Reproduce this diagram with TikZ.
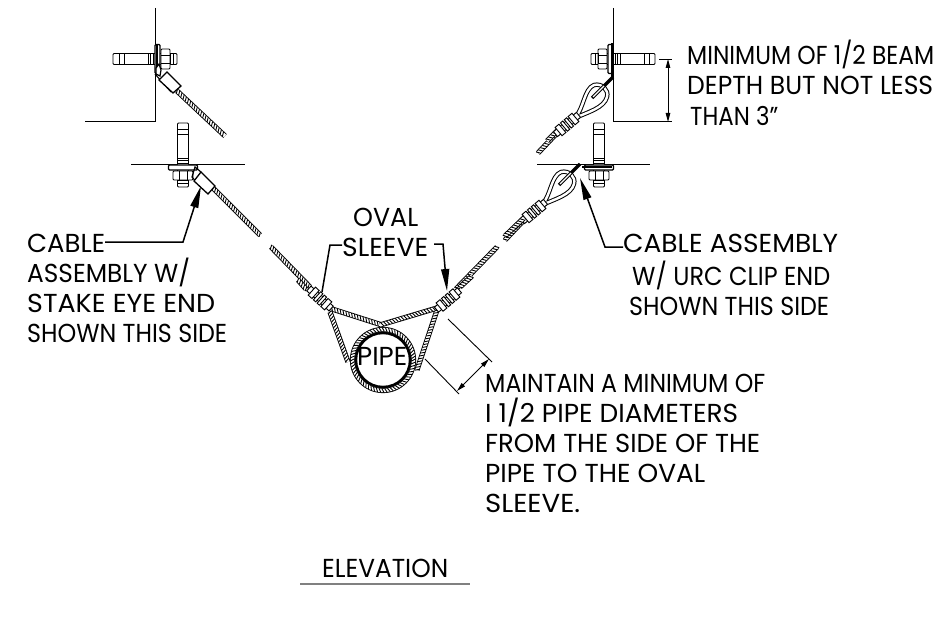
\documentclass[tikz,border=0pt]{standalone}
\usepackage{fontspec}
\usepackage{graphicx}
\setmainfont{Poppins}
\usetikzlibrary{decorations.markings,arrows.meta}
\tikzset{
  rope/.style={draw=black,line width=.9pt,double=white,double distance=3.4pt,
    postaction={decorate,decoration={markings,
      mark=between positions 0 and 1 step 3pt with {\draw[line width=.9pt,double=none] (-1.1,-2)--(1.1,2);}}}},
  thin line/.style={draw=black,line width=.9pt},
  part/.style={draw=black,line width=.9pt,fill=white},
  lead/.style={draw=black,line width=1.5pt},
  bigtip/.style={-{Triangle[length=22pt,width=8pt]}},
  dim/.style={draw=black,line width=1pt,{Triangle[length=9pt,width=4.5pt]}-{Triangle[length=9pt,width=4.5pt]}},
  lbl/.style={inner sep=0pt,anchor=base west,font=\fontsize{26}{30}\selectfont,text=black},
}
\newcommand{\fitw}[2]{\resizebox{#1pt}{\height}{#2}}
% bolt: origin on the flange, shaft towards local "up"
\newcommand{\boltat}[3]{\begin{scope}[shift={(#1,#2)},rotate=#3]
  \draw[part,rounded corners=1pt] (-5.5,-42) rectangle (5.5,22);
  \draw[thin line] (-5.5,-36)--(5.5,-36);
  \draw[thin line] (-5.5,-31)--(5.5,-31);
  \draw[thin line] (-5.5,-7)--(5.5,-7);
  \draw[thin line] (-5.5,-4.5)--(5.5,-4.5);
  \draw[thin line] (-5.5,-2)--(5.5,-2);
  \draw[part,rounded corners=1pt] (-10,6) rectangle (10,15);
  \draw[thin line] (-4,6)--(-4,15) (4,6)--(4,15);
  \draw[part,rounded corners=1pt,line width=1.1pt] (-14.5,0) rectangle (14.5,5);
  \draw[thin line] (-5.5,15)--(5.5,15) (-5.5,18)--(5.5,18);
\end{scope}}
\newcommand{\sleeveat}[3]{\begin{scope}[shift={(#1,#2)},rotate=#3]
  \draw[part] (-15,-3.2) rectangle (15,3.2);
  \draw[part] (-11,-5.4) rectangle (-6,5.4);
  \draw[part] (-4,-5.4) rectangle (-1,5.4);
  \draw[part] (1,-5.4) rectangle (4,5.4);
  \draw[part] (6,-5.4) rectangle (11,5.4);
\end{scope}}
\newcommand{\eyeat}[2]{\begin{scope}[shift={(#1,#2)}]
  \draw[rope] (557,133)--(538,153);
  \draw[rope] (559,129)--(547,141);
  \draw[thin line,line width=1pt,double=white,double distance=2.4pt,fill=white]
    (575,118) .. controls (584,108) and (584,89) .. (594,85)
    .. controls (602,83) and (609,90) .. (607,97)
    .. controls (604,108) and (588,112) .. (575,118);
  \draw[line width=3.2pt,black] (592,98)--(613,77);
  \draw[line width=1.3pt,white] (593,97)--(604,86);
  \sleeveat{567}{124.5}{40}
\end{scope}}
\begin{document}
\begin{tikzpicture}[x=1pt,y=-1pt]
\useasboundingbox (0,0) rectangle (935,623);
\clip (0,0) rectangle (935,623);
% beams
\draw[thin line,line width=1pt] (155,8)--(155,122)--(85,122);
\draw[thin line,line width=1pt] (613,8)--(613,122)--(672,122);
\draw[thin line,line width=1pt] (131,165)--(245,165);
\draw[thin line,line width=1pt] (537,165)--(650,165);
% bolts
\boltat{155}{59}{90}
\boltat{613}{59}{-90}
\boltat{183}{165}{0}
\boltat{599}{165}{0}
\draw[line width=3pt] (612,43)--(612,78);
\draw[line width=2.4pt] (157,45)--(157,74);
\draw[line width=2.4pt] (582,167)--(612,167);
% left cables
\draw[rope] (177,91)--(225,136);
\draw[rope] (213,188)--(260,235);
\draw[rope] (271,247)--(310,287);
\draw[rope] (298,280)--(306,289);
% upper stake
\draw[part,line width=1.2pt] (156,74)--(156,68)--(159,64)--(161,70)--(160,76)--cycle;
\draw[thin line,line width=1.1pt] (155,74)--(171,92);
\draw[part,line width=1.3pt] (167,72)--(181,86)--(173,93)--(159,80)--cycle;
% lower stake
\draw[thin line,line width=1.2pt] (201,172)--(195,167)--(192,177)--(197,183);
\draw[part,line width=1.3pt] (201,172)--(215,186)--(208,194)--(194,181)--cycle;
% right cables
\eyeat{0}{0}
\eyeat{-33}{87}
\draw[rope] (505,236)--(524,218);
\draw[rope] (497,247)--(456,289);
\draw[rope] (460,287)--(472,276);
% loop ropes
\draw[rope] (330,312)--(348,362);
\draw[rope] (437,310)--(417,370);
\draw[rope] (332,309)--(382,325);
\draw[rope] (437,308)--(380,325);
% pipe
\draw[rope,fill=white] (383,360) circle[radius=30.5];
\draw[line width=2.4pt] (383,360) circle[radius=27];
\node[lbl] (pipe) at (357,365) {\fitw{50}{PIPE}};
% sleeves
\sleeveat{320}{298.5}{-42}
\sleeveat{448}{300}{40}
% texts
\node[lbl] (t1) at (687,65) {\fitw{247}{MINIMUM OF 1/2 BEAM}};
\node[lbl] (t2) at (687,95) {\fitw{246}{DEPTH BUT NOT LESS}};
\node[lbl] (t3) at (690,126) {\fitw{88}{THAN 3"}};
\node[lbl] (oval) at (353,227) {\fitw{65}{OVAL}};
\node[lbl] (sleeve) at (342,257) {\fitw{86}{SLEEVE}};
\node[lbl] (l1) at (27,252) {\fitw{78}{CABLE}};
\node[lbl] (l2) at (27,282) {\fitw{163}{ASSEMBLY W/}};
\node[lbl] (l3) at (27,312) {\fitw{188}{STAKE EYE END}};
\node[lbl] (l4) at (27,342) {\fitw{200}{SHOWN THIS SIDE}};
\node[lbl] (r1) at (623,253) {\fitw{215}{CABLE ASSEMBLY}};
\node[lbl] (r2) at (632,285) {\fitw{198}{W/ URC CLIP END}};
\node[lbl] (r3) at (629,315) {\fitw{200}{SHOWN THIS SIDE}};
\node[lbl] (m1) at (485,392) {\fitw{280}{MAINTAIN A MINIMUM OF}};
\node[lbl] (m2) at (485,422) {\fitw{253}{I 1/2 PIPE DIAMETERS}};
\node[lbl] (m3) at (485,452) {\fitw{275}{FROM THE SIDE OF THE}};
\node[lbl] (m4) at (485,482) {\fitw{220}{PIPE TO THE OVAL}};
\node[lbl] (m5) at (485,512) {\fitw{95}{SLEEVE.}};
\node[lbl] (elev) at (322,577) {\fitw{126}{ELEVATION}};
% underline
\coordinate (ua) at (300,584);
\coordinate (ub) at (470,584);
\draw[gray,line width=1.2pt] (ua)--(ub);
% leaders
\coordinate (a0) at (105,242);
\coordinate (a1) at (183,242);
\coordinate (a2) at (201,186);
\coordinate (b0) at (623,247);
\coordinate (b1) at (605,247);
\coordinate (b2) at (580,178);
\draw[lead,bigtip] (a0) -- (a1) -- (a2);
\draw[lead,bigtip] (b0) -- (b1) -- (b2);
\coordinate (c0) at (342,245);
\coordinate (c1) at (330,245);
\coordinate (c2) at (322,292);
\coordinate (d0) at (434,244);
\coordinate (d1) at (443,244);
\coordinate (d2) at (447,291);
\draw[lead] (c0) -- (c1) -- (c2);
\draw[lead,bigtip] (d0) -- (d1) -- (d2);
% dimensions
\coordinate (e1) at (659,59);
\coordinate (e2) at (672,59);
\draw[thin line] (e1)--(e2);
\coordinate (e3) at (668,59);
\coordinate (e4) at (668,122);
\draw[dim] (e3)--(e4);
\coordinate (f1) at (448,319);
\coordinate (f2) at (492,362);
\coordinate (f3) at (425,359);
\coordinate (f4) at (459,394);
\draw[thin line] (f1)--(f2);
\draw[thin line] (f3)--(f4);
\coordinate (g1) at (457,391);
\coordinate (g2) at (489,359);
\draw[dim] (g1)--(g2);
\end{tikzpicture}
\end{document}
